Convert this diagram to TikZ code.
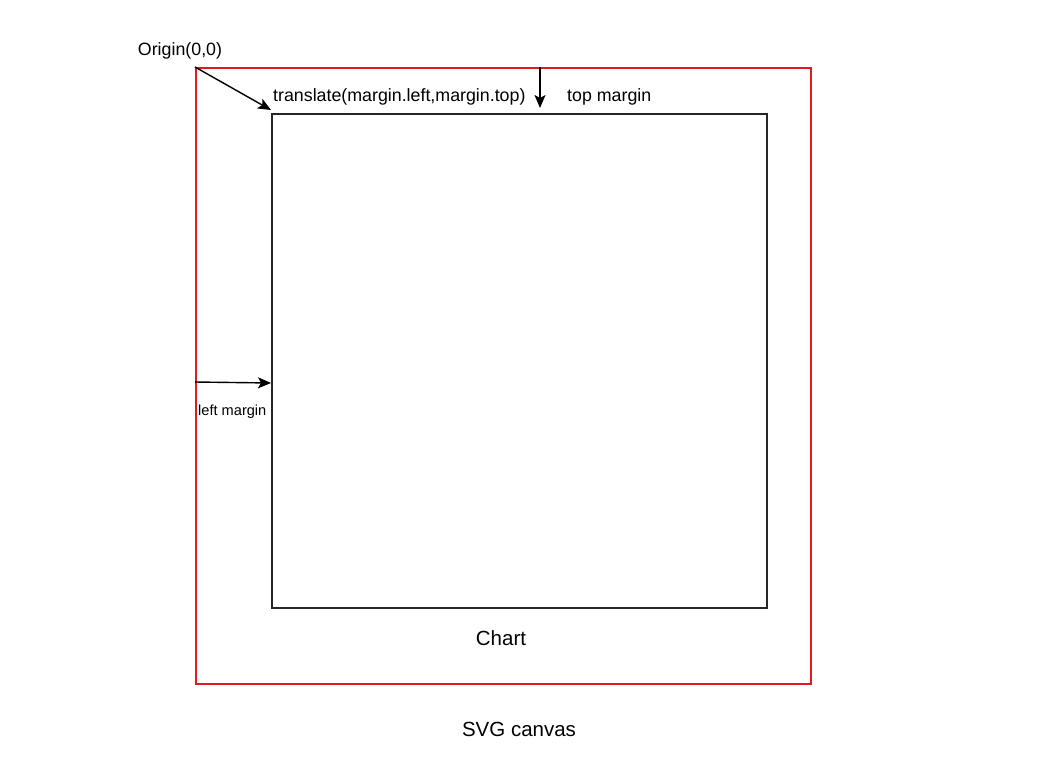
\documentclass[tikz,border=0pt]{standalone}
\usepackage{fontspec}
\setmainfont{Liberation Sans}
\usetikzlibrary{arrows.meta}
\definecolor{canvasred}{RGB}{225,25,35}
\begin{document}
\begin{tikzpicture}[x=1pt,y=-1pt,
  lbl/.style={inner sep=0pt,anchor=center},
  arr/.style={-{Stealth[length=13pt,width=11pt,inset=3pt]},line width=1.4pt},
  fs18/.style={font=\fontsize{17.8}{20}\selectfont},
  fs15/.style={font=\fontsize{14.6}{17}\selectfont},
  fs20/.style={font=\fontsize{20.5}{24}\selectfont}]
\useasboundingbox (0,0) rectangle (1040,763);
\node[draw=canvasred,line width=1.6pt,minimum width=615pt,minimum height=616pt,inner sep=0pt,anchor=north west] (svg) at (195,67) {};
\node[draw=black!85,line width=1.6pt,minimum width=495pt,minimum height=494pt,inner sep=0pt,anchor=north west] (chart) at (271,113) {};
\node[lbl,fs18] (origin) at (180,51) {Origin(0,0)};
\node[lbl,fs18,anchor=west] (translate) at (273,97) {translate(margin.left,margin.top)};
\node[lbl,fs18,anchor=west] (topm) at (567,97) {top margin};
\node[lbl,fs15,anchor=west] (leftm) at (198,412) {left margin};
\node[lbl,fs20] (chartlbl) at (501,638) {Chart};
\node[lbl,fs20] (svglbl) at (519,729) {SVG canvas};
\coordinate (o) at (svg.north west);
\coordinate (tl) at (271,110);
\coordinate (tt) at (540,67);
\coordinate (tb) at (540,108);
\coordinate (ls) at (195,382);
\coordinate (le) at (271,383);
\draw[arr] (o) -- (tl);
\draw[arr] (tt) -- (tb);
\draw[arr] (ls) -- (le);
\end{tikzpicture}
\end{document}
